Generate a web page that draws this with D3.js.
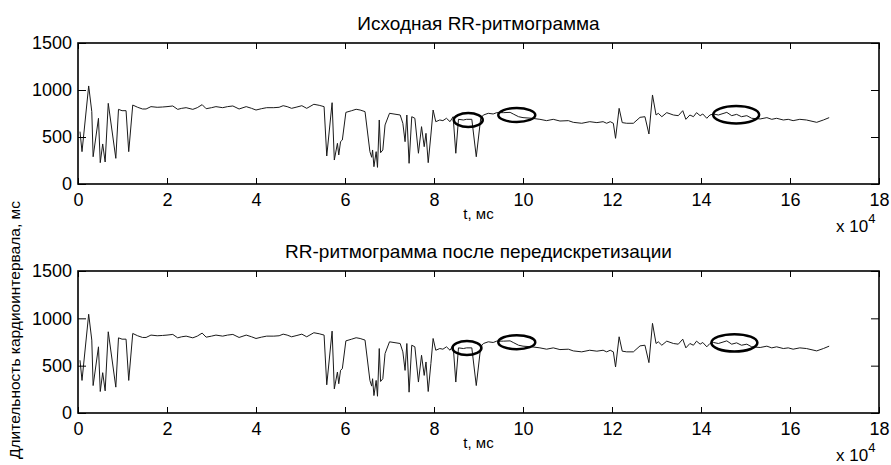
<!DOCTYPE html>
<html>
<head>
<meta charset="utf-8">
<script src="https://cdn.jsdelivr.net/npm/d3@7"></script>
<style>
  body { margin: 0; background: #fff; }
  text { font-family: "Liberation Sans", Arial, sans-serif; fill: #000; }
</style>
</head>
<body>
<svg id="chart"></svg>
<script>
// RR series (time in ms, RR in ms)
const timeMs = [
  450, 900, 2400, 3100, 3400, 4600, 5000, 5550, 6100, 6800, 8500, 9100, 9900, 10800, 11400,
  12300, 13400, 14500, 15300, 16400, 17800, 19000, 20000, 21300, 22400, 23300, 24300, 25800,
  26800, 27900, 28800, 30000, 31000, 32500, 33600, 34800, 36200, 37800, 39000, 40000, 41200,
  42400, 44000, 45200, 46100, 47000, 48000, 49200, 50300, 51400, 53000, 54200, 55300, 55900,
  57100, 57600, 58300, 58600, 59000, 59400, 60200, 61500, 62500, 63400, 64500, 65600, 66000,
  66200, 66500, 67000, 67300, 67700, 68000, 68500, 69000, 70000, 72400, 73000, 73500, 73900,
  74400, 75000, 75700, 76500, 77200, 77800, 78200, 78700, 79300, 79800, 80400, 81300, 82000,
  82800, 83600, 84300, 84900, 85500, 86600, 87300, 88500, 89500, 90500, 91100, 92200, 93300,
  94100, 95600, 97100, 97800, 99000, 100000, 102000, 103800, 105300, 106800, 108300, 110200,
  111300, 113200, 115000, 116600, 118000, 118800, 119600, 120300, 120800, 121600, 122300,
  123300, 124800, 126300, 127400, 128300, 129100, 129900, 130400, 131200, 132300, 133800,
  134900, 135900, 136600, 137500, 138300, 139000, 139800, 140400, 141300, 142000, 142800,
  143900, 145800, 146900, 148000, 149100, 150300, 151400, 153300, 154800, 155900, 157000,
  158500, 159600, 160700, 162200, 163700, 166000, 167500, 168800
];
const rrOriginal = [
  557, 344, 1043, 770, 290, 699, 227, 426, 234, 858, 273, 794, 780, 780, 344,
  840, 816, 798, 798, 823, 816, 819, 823, 830, 794, 805, 812, 794,
  812, 844, 801, 812, 823, 812, 823, 830, 798, 823, 805, 787, 801,
  812, 812, 816, 833, 823, 805, 819, 833, 805, 848, 837, 823, 298,
  865, 255, 433, 309, 451, 468, 762, 780, 795, 787, 770, 344, 284,
  362, 184, 344, 177, 681, 333, 362, 628, 752, 734, 646, 450, 734,
  220, 716, 699, 327, 610, 397, 539, 227, 521, 787, 663, 681, 674,
  699, 663, 716, 327, 688, 681, 688, 688, 290, 700, 734, 752, 745,
  759, 759, 762, 745, 716, 706, 699, 688, 674, 688, 670, 674,
  656, 646, 663, 653, 663, 646, 663, 646, 486, 805, 653,
  646, 646, 709, 716, 532, 947, 734, 752, 716, 759, 734,
  727, 780, 688, 734, 716, 759, 727, 745, 699, 734, 745,
  734, 762, 727, 741, 716, 727, 699, 692, 706, 688,
  699, 681, 688, 674, 688, 681, 656, 681, 706
];
// the resampled curve is visually the same as the original one
const rrResampled = rrOriginal;

const xTicks = [0, 20000, 40000, 60000, 80000, 100000, 120000, 140000, 160000, 180000];
const yTicks = [0, 500, 1000, 1500];
const panelTitles = ["Исходная RR-ритмограмма", "RR-ритмограмма после передискретизации"];

// highlighted fragments (ellipse centres), per panel
const markTimes = [[87700, 98600, 147900], [87400, 98600, 147500]];
const markRR = [[681, 734, 737], [687, 748, 741]];
const markRadii = [[14.5, 7], [18.5, 7], [23, 8.7]];

const width = 891;
const height = 465;
const left = 78, right = 879;
const panels = [
  { top: 43, bottom: 184, rr: rrOriginal },
  { top: 271, bottom: 413, rr: rrResampled }
];

const svg = d3.select("#chart").attr("width", width).attr("height", height);

const x = d3.scaleLinear().domain([0, 180000]).range([left, right]);

panels.forEach((p, i) => {
  const y = d3.scaleLinear().domain([0, 1500]).range([p.bottom, p.top]);
  const g = svg.append("g");

  // data line
  const line = d3.line().x((d, j) => x(timeMs[j])).y((d) => y(d));
  g.append("path")
    .datum(p.rr)
    .attr("d", line)
    .attr("fill", "none")
    .attr("stroke", "#1a1a1a")
    .attr("stroke-width", 1);

  // axes with inward ticks
  const bottomAxis = g.append("g")
    .attr("transform", `translate(0,${p.bottom})`)
    .call(d3.axisBottom(x).tickValues(xTicks).tickSize(-6).tickSizeOuter(0).tickPadding(9)
      .tickFormat((d) => d / 10000));
  const topAxis = g.append("g")
    .attr("transform", `translate(0,${p.top})`)
    .call(d3.axisTop(x).tickValues(xTicks).tickSize(-6).tickSizeOuter(0).tickFormat(""));
  const leftAxis = g.append("g")
    .attr("transform", `translate(${left},0)`)
    .call(d3.axisLeft(y).tickValues(yTicks).tickSize(-8).tickSizeOuter(0).tickPadding(6)
      .tickFormat(d3.format("d")));
  const rightAxis = g.append("g")
    .attr("transform", `translate(${right},0)`)
    .call(d3.axisRight(y).tickValues(yTicks).tickSize(-8).tickSizeOuter(0).tickFormat(""));

  [bottomAxis, topAxis, leftAxis, rightAxis].forEach((a) => {
    a.attr("font-family", null).attr("font-size", null);
    a.select(".domain").remove();
    a.selectAll("line").attr("stroke", "#000").attr("stroke-width", 1);
    a.selectAll("text").style("font-size", "18px");
  });

  g.append("rect")
    .attr("x", left)
    .attr("y", p.top)
    .attr("width", right - left)
    .attr("height", p.bottom - p.top)
    .attr("fill", "none")
    .attr("stroke", "#000")
    .attr("stroke-width", 1.6);

  // ellipses around highlighted fragments
  g.selectAll("ellipse")
    .data(markTimes[i])
    .enter()
    .append("ellipse")
    .attr("cx", (d) => x(d))
    .attr("cy", (d, j) => y(markRR[i][j]))
    .attr("rx", (d, j) => markRadii[j][0])
    .attr("ry", (d, j) => markRadii[j][1])
    .attr("fill", "none")
    .attr("stroke", "#000")
    .attr("stroke-width", 2.5);

  g.append("text")
    .attr("x", (left + right) / 2)
    .attr("y", p.top - 13)
    .attr("text-anchor", "middle")
    .style("font-size", "19px")
    .text(panelTitles[i]);

  g.append("text")
    .attr("x", (left + right) / 2)
    .attr("y", p.bottom + 35)
    .attr("text-anchor", "middle")
    .style("font-size", "15px")
    .text("t, мс");

  const expo = g.append("text")
    .attr("x", 836)
    .attr("y", p.bottom + 48)
    .style("font-size", "17px")
    .text("x 10");
  expo.append("tspan")
    .attr("dy", -9)
    .style("font-size", "13px")
    .text("4");
});

svg.append("text")
  .attr("transform", "translate(20,330) rotate(-90)")
  .attr("text-anchor", "middle")
  .style("font-size", "15.5px")
  .text("Длительность кардиоинтервала, мс");
</script>
</body>
</html>
